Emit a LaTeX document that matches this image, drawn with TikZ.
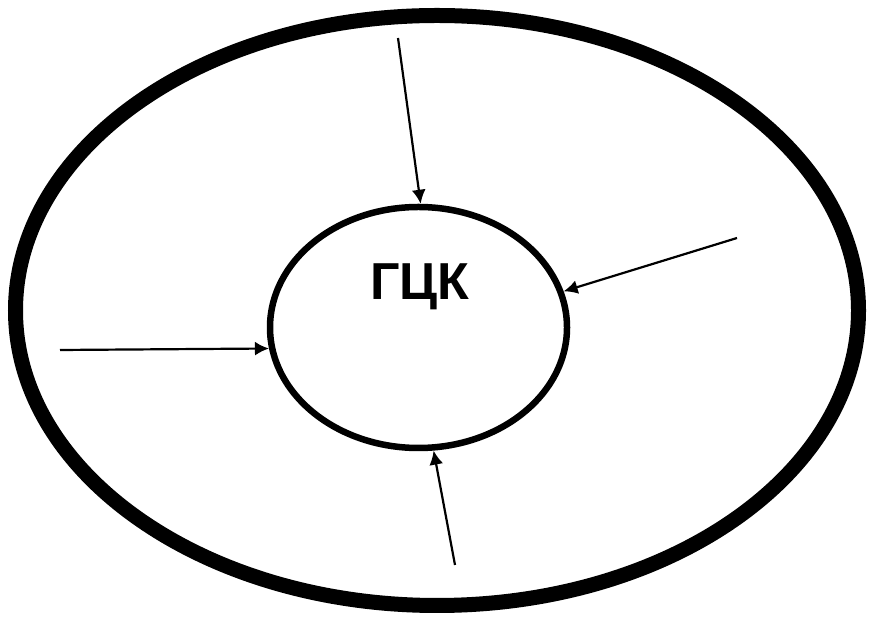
\documentclass[tikz,border=0pt]{standalone}
\usepackage{fontspec}
\setmainfont{Liberation Sans}
\usetikzlibrary{arrows.meta,shapes.geometric}

\begin{document}
\begin{tikzpicture}[x=1pt,y=1pt,
  core/.style={ellipse,draw,line width=6.5pt,minimum width=297pt,minimum height=241pt,inner sep=0pt},
  arr/.style={line width=2.2pt,-{Latex[length=14pt,width=14pt]}}]
\useasboundingbox (0,0) rectangle (869,620);
\draw[line width=15pt] (437,309.5) ellipse (421.5 and 295);
\node[core] (gck) at (418.5,292.5) {};
\node[font=\fontsize{52}{54}\selectfont\bfseries] (lbl) at (420,333) {ГЦК};
% arrows into the core
\coordinate (ftop) at (398,582);
\coordinate (fright) at (737,382);
\coordinate (fleft) at (60,270);
\coordinate (fbot) at (455,55);
\draw[arr] (ftop) -- (gck.89.5);
\draw[arr] (fright) -- (gck.14.3);
\draw[arr] (fleft) -- (gck.188.7);
\draw[arr] (fbot) -- (gck.277);
\end{tikzpicture}
\end{document}
